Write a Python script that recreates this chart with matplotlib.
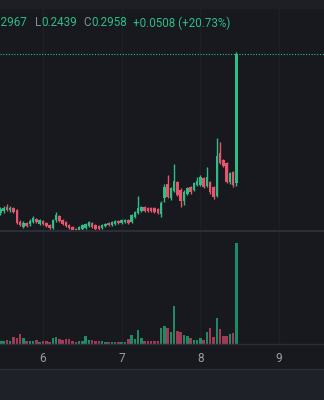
import numpy as np
import matplotlib
matplotlib.use('Agg')
import matplotlib.pyplot as plt

# hourly candles, first one at day 5 11:00
start_day = 5 + 11 / 24.0

opens = [0.2332, 0.2340, 0.2356, 0.2344, 0.2352, 0.2344, 0.2296, 0.2277, 0.2293, 0.2289,
         0.2296, 0.2308, 0.2289, 0.2300, 0.2293, 0.2285, 0.2273, 0.2304, 0.2320, 0.2304,
         0.2296, 0.2285, 0.2277, 0.2269, 0.2261, 0.2269, 0.2273, 0.2281, 0.2293, 0.2285,
         0.2281, 0.2273, 0.2281, 0.2293, 0.2285, 0.2289, 0.2300, 0.2293, 0.2296, 0.2304,
         0.2296, 0.2316, 0.2332, 0.2340, 0.2356, 0.2352, 0.2352, 0.2352, 0.2348, 0.2328,
         0.2391, 0.2446, 0.2391, 0.2419, 0.2454, 0.2422, 0.2379, 0.2407, 0.2434, 0.2422,
         0.2442, 0.2442, 0.2470, 0.2438, 0.2454, 0.2434, 0.2399, 0.2568, 0.2541, 0.2529,
         0.2454, 0.2493, 0.2450]
highs = [0.2356, 0.2360, 0.2367, 0.2360, 0.2356, 0.2348, 0.2304, 0.2300, 0.2296, 0.2308,
         0.2320, 0.2312, 0.2308, 0.2304, 0.2296, 0.2289, 0.2308, 0.2336, 0.2324, 0.2308,
         0.2300, 0.2289, 0.2281, 0.2273, 0.2281, 0.2289, 0.2293, 0.2300, 0.2296, 0.2289,
         0.2285, 0.2289, 0.2293, 0.2296, 0.2300, 0.2304, 0.2304, 0.2308, 0.2308, 0.2308,
         0.2328, 0.2340, 0.2399, 0.2360, 0.2360, 0.2356, 0.2356, 0.2356, 0.2352, 0.2379,
         0.2446, 0.2482, 0.2434, 0.2525, 0.2458, 0.2430, 0.2422, 0.2434, 0.2438, 0.2454,
         0.2474, 0.2482, 0.2474, 0.2513, 0.2458, 0.2438, 0.2627, 0.2612, 0.2545, 0.2533,
         0.2493, 0.2497, 0.2967]
lows = [0.2324, 0.2332, 0.2340, 0.2336, 0.2332, 0.2289, 0.2281, 0.2273, 0.2277, 0.2281,
        0.2293, 0.2293, 0.2285, 0.2285, 0.2277, 0.2269, 0.2269, 0.2296, 0.2296, 0.2285,
        0.2277, 0.2269, 0.2261, 0.2257, 0.2257, 0.2265, 0.2269, 0.2277, 0.2273, 0.2265,
        0.2265, 0.2269, 0.2277, 0.2281, 0.2281, 0.2285, 0.2289, 0.2289, 0.2293, 0.2289,
        0.2293, 0.2312, 0.2328, 0.2336, 0.2336, 0.2336, 0.2336, 0.2332, 0.2328, 0.2316,
        0.2375, 0.2391, 0.2383, 0.2415, 0.2399, 0.2356, 0.2363, 0.2403, 0.2407, 0.2419,
        0.2438, 0.2438, 0.2430, 0.2434, 0.2407, 0.2387, 0.2395, 0.2525, 0.2513, 0.2450,
        0.2446, 0.2434, 0.2439]
closes = [0.2348, 0.2352, 0.2344, 0.2352, 0.2336, 0.2293, 0.2285, 0.2293, 0.2281, 0.2300,
          0.2312, 0.2296, 0.2304, 0.2289, 0.2281, 0.2273, 0.2304, 0.2324, 0.2300, 0.2289,
          0.2281, 0.2273, 0.2265, 0.2261, 0.2277, 0.2285, 0.2289, 0.2296, 0.2277, 0.2269,
          0.2269, 0.2285, 0.2289, 0.2285, 0.2296, 0.2300, 0.2293, 0.2304, 0.2304, 0.2293,
          0.2324, 0.2336, 0.2352, 0.2356, 0.2340, 0.2340, 0.2340, 0.2336, 0.2332, 0.2371,
          0.2434, 0.2395, 0.2430, 0.2458, 0.2403, 0.2379, 0.2415, 0.2430, 0.2415, 0.2450,
          0.2458, 0.2474, 0.2434, 0.2474, 0.2415, 0.2395, 0.2556, 0.2529, 0.2517, 0.2454,
          0.2489, 0.2442, 0.2958]
# volume in thousands
volumes = [30, 30, 40, 30, 70, 60, 100, 60, 30, 30,
           30, 40, 20, 30, 30, 20, 60, 70, 50, 40,
           50, 50, 30, 20, 30, 30, 80, 40, 40, 30,
           30, 30, 20, 20, 20, 20, 20, 20, 20, 50,
           90, 50, 140, 60, 30, 30, 30, 30, 30, 160,
           180, 160, 120, 380, 130, 120, 90, 80, 60, 40,
           40, 60, 40, 120, 160, 70, 260, 150, 80, 80,
           100, 110, 1010]

day_ticks = [6, 7, 8, 9]

BG = '#17191e'
GREEN = '#2ebd85'
RED = '#e5566c'
GRAY = '#848e9c'

o = np.array(opens)
h = np.array(highs)
l = np.array(lows)
c = np.array(closes)
v = np.array(volumes)
t = start_day + np.arange(len(o)) / 24.0
up = c >= o
cols = np.where(up, GREEN, RED)

fig = plt.figure(figsize=(3.24, 4.0), dpi=100, facecolor=BG)

# top strip and bottom strip
fig.patches.append(plt.Rectangle((0, 0.98), 1, 0.02, transform=fig.transFigure,
                                 color='#1d1f25', zorder=0))
fig.patches.append(plt.Rectangle((0, 0), 1, 0.0775, transform=fig.transFigure,
                                 color='#1f2129', zorder=0))

xlim = (5.4536, 9.5705)

ax = fig.add_axes([0, 0.4225, 1, 0.5575])
ax.set_facecolor(BG)
ax.set_xlim(*xlim)
ax.set_ylim(0.2261, 0.3139)
for d in day_ticks:
    ax.axvline(d, color='#1c1f25', lw=1, zorder=0)
ax.vlines(t, l, h, colors=cols, lw=1.0, zorder=2)
ax.bar(t, np.maximum(np.abs(c - o), 0.00015), bottom=np.minimum(o, c),
       width=0.76 / 24, color=cols, zorder=3, linewidth=0)
ax.axhline(closes[-1], color=GREEN, lw=0.8, ls=(0, (1, 1.5)), zorder=1)
ax.set_xticks([])
ax.set_yticks([])
for s in ax.spines.values():
    s.set_visible(False)

axv = fig.add_axes([0, 0.14, 1, 0.28])
axv.set_facecolor(BG)
axv.set_xlim(*xlim)
axv.set_ylim(0, v.max() * 112 / 101)
for d in day_ticks:
    axv.axvline(d, color='#1c1f25', lw=1, zorder=0)
vcols = np.where(up, '#1e8a66', '#a33a55')
axv.bar(t, v, width=0.76 / 24, color=vcols, linewidth=0, zorder=2)
axv.set_yticks([])
axv.set_xticks(day_ticks)
axv.set_xticklabels([str(d) for d in day_ticks], fontsize=8.5, color='#9a9ea8',
                    family='Roboto')
axv.tick_params(axis='x', length=0, pad=6)
for s in axv.spines.values():
    s.set_visible(False)
axv.spines['bottom'].set_visible(True)
axv.spines['bottom'].set_color('#2b2e36')
axv.spines['bottom'].set_linewidth(1)

# separators
fig.add_artist(plt.Line2D([0, 1], [0.4225, 0.4225], transform=fig.transFigure,
                          color='#2b2e36', lw=1.5))
fig.add_artist(plt.Line2D([0, 1], [0.0775, 0.0775], transform=fig.transFigure,
                          color='#2b2e36', lw=1))

# OHLC legend (the open/high part runs off the left edge, as in the source)
fig.canvas.draw()
r = fig.canvas.get_renderer()
ty = 1 - 23 / 400.0
kw = dict(fontsize=8.4, family='Roboto', va='center')


def put(x, s, color, ha='left'):
    tx = fig.text(x / 324.0, ty, s, color=color, ha=ha, **kw)
    bb = tx.get_window_extent(renderer=r)
    return bb.x0, bb.x1


put(27, '0.2967', GREEN, 'right')

_, x1 = put(35, 'L', GRAY)
put(x1 + 0.5, '0.2439', GREEN)
_, x1 = put(83, 'C', GRAY)
put(x1 + 0.5, '0.2958', GREEN)
put(133, '+0.0508 (+20.73%)', GREEN)

fig.savefig('out.png', dpi=100, facecolor=BG)
